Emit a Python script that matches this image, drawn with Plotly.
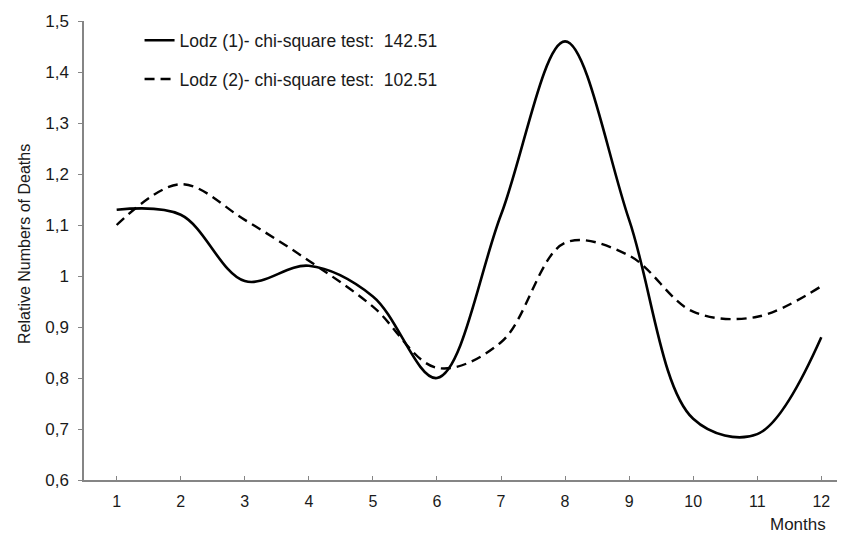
import plotly.graph_objects as go

months = [1, 2, 3, 4, 5, 6, 7, 8, 9, 10, 11, 12]
lodz1 = [1.13, 1.12, 0.99, 1.02, 0.96, 0.80, 1.12, 1.46, 1.11, 0.72, 0.69, 0.88]
lodz2 = [1.10, 1.18, 1.11, 1.03, 0.94, 0.82, 0.87, 1.065, 1.04, 0.93, 0.92, 0.98]
name1 = "Lodz (1)- chi-square test:  142.51"
name2 = "Lodz (2)- chi-square test:  102.51"
y_tickvals = [0.6, 0.7, 0.8, 0.9, 1.0, 1.1, 1.2, 1.3, 1.4, 1.5]
y_ticktext = ["0,6", "0,7", "0,8", "0,9", "1", "1,1", "1,2", "1,3", "1,4", "1,5"]
y_title = "Relative Numbers of Deaths"
x_title = "Months"

font = "Liberation Sans, Arial, sans-serif"
ink = "#1a1a1a"
axis_col = "#858585"

fig = go.Figure()
fig.add_trace(go.Scatter(x=months, y=lodz1, name=name1, mode="lines", legendgroup="a",
                         line=dict(color="black", width=2.6, shape="spline", smoothing=1.0)))
fig.add_trace(go.Scatter(x=months, y=lodz2, name=name2, mode="lines", legendgroup="b",
                         line=dict(color="black", width=2.4, shape="spline", smoothing=1.0,
                                   dash="10px,6px")))

# the page body adds an 8px offset, so the figure is 8px smaller than the window
fig.update_layout(
    width=837, height=525,
    margin=dict(l=76, r=0, t=13, b=53, autoexpand=False),
    paper_bgcolor="white", plot_bgcolor="white",
    font=dict(family=font, size=16, color=ink),
    showlegend=True,
    legend=dict(x=0.073, y=0.997, xanchor="left", yanchor="top",
                bgcolor="rgba(0,0,0,0)", font=dict(size=17.5, color=ink),
                tracegroupgap=13, itemwidth=30),
    xaxis=dict(range=[0.49, 12.37], tickvals=months, ticktext=[str(m) for m in months],
               showgrid=False, zeroline=False, showline=True, linecolor=axis_col, linewidth=1.5,
               ticks="inside", ticklen=4, tickcolor=axis_col, tickwidth=1,
               tickfont=dict(size=16), ticklabelstandoff=6, automargin=False),
    yaxis=dict(range=[0.6, 1.5], tickvals=y_tickvals, ticktext=y_ticktext,
               showgrid=False, zeroline=False, showline=True, linecolor=axis_col, linewidth=1.5,
               ticks="outside", ticklen=4, tickcolor=axis_col, tickwidth=1,
               tickfont=dict(size=17), ticklabelstandoff=6, automargin=False),
    annotations=[
        dict(text=x_title, x=0.978, y=-0.098, xref="paper", yref="paper",
             xanchor="right", yanchor="middle", showarrow=False, font=dict(size=17)),
        dict(text=y_title, x=-0.079, y=0.514, xref="paper", yref="paper", textangle=-90,
             xanchor="center", yanchor="middle", showarrow=False, font=dict(size=16)),
    ],
)

fig.write_html("out.html")
